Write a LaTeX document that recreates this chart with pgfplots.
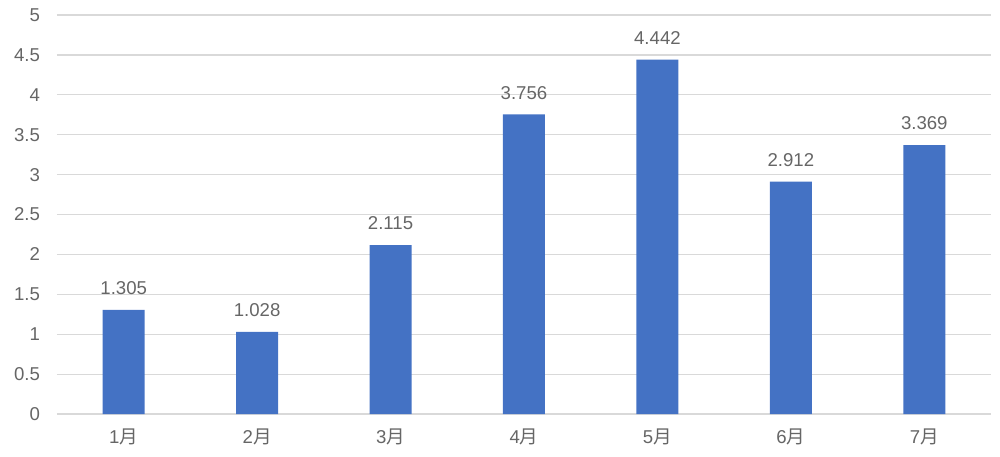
\documentclass[border=0pt]{standalone}
\usepackage{pgfplots}
\pgfplotsset{compat=1.18}
\usepackage{fontspec}
\setmainfont{Liberation Sans}
\newfontfamily\cjk{Noto Sans CJK SC}
\definecolor{barblue}{HTML}{4472C4}
\definecolor{txtgray}{HTML}{666666}
\definecolor{gridgray}{HTML}{D9D9D9}
\begin{document}
\begin{tikzpicture}
\path[use as bounding box] (-28.5pt,-21pt) rectangle (471.5pt,207pt);
\begin{axis}[
  at={(0,0)}, anchor=south west,
  scale only axis,
  width=467pt, height=199.5pt,
  xmin=-0.5, xmax=6.5,
  ymin=0, ymax=5,
  ytick={0,0.5,...,5},
  xtick={0,...,6},
  xticklabels={{1\cjk 月},{2\cjk 月},{3\cjk 月},{4\cjk 月},{5\cjk 月},{6\cjk 月},{7\cjk 月}},
  axis line style={draw=none},
  axis x line*=bottom,
  x axis line style={draw=gridgray, line width=0.6pt},
  ymajorgrids,
  grid style={gridgray, line width=0.6pt},
  major tick length=0pt,
  tick label style={font=\fontsize{9.3}{11}\selectfont, text=txtgray},
  /pgf/number format/assume math mode=true,
  yticklabel style={/pgf/number format/fixed, xshift=-5pt},
  xticklabel style={yshift=-4pt},
  ybar, bar width=21pt,
  nodes near coords,
  nodes near coords style={font=\fontsize{9.3}{11}\selectfont, text=txtgray, /pgf/number format/fixed, /pgf/number format/precision=3, yshift=4pt},
  clip=false,
]
\addplot[fill=barblue, draw=none] coordinates {(0,1.305) (1,1.028) (2,2.115) (3,3.756) (4,4.442) (5,2.912) (6,3.369)};
\end{axis}
\end{tikzpicture}
\end{document}
